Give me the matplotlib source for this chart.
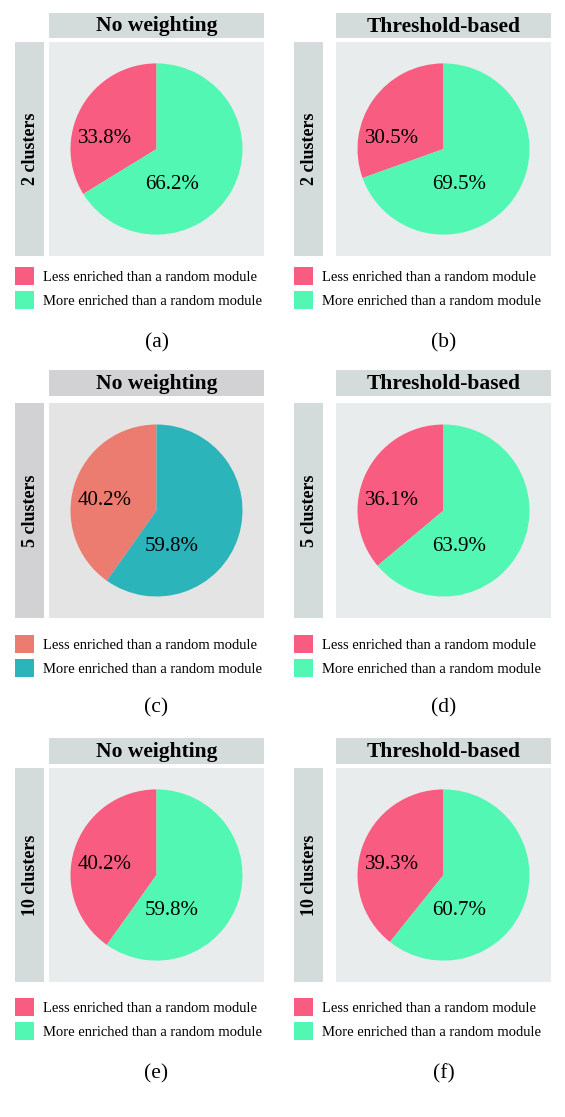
"""
Pie chart grid: share of modules more/less enriched than a random module
"""

import matplotlib.pyplot as plt
from matplotlib.patches import Rectangle

plt.rcParams['font.family'] = ['Liberation Serif', 'DejaVu Serif']

# data, row by row (a)..(f)
methods = ["No weighting", "Threshold-based"]
clusters = ["2 clusters", "5 clusters", "10 clusters"]
captions = ["(a)", "(b)", "(c)", "(d)", "(e)", "(f)"]
legend_labels = ["Less enriched than a random module", "More enriched than a random module"]
less_pct = [33.8, 30.5, 40.2, 36.1, 40.2, 39.3]
more_pct = [66.2, 69.5, 59.8, 63.9, 59.8, 60.7]

W, H = 565, 1117
fig = plt.figure(figsize=(W / 100, H / 100), dpi=100)
fig.patch.set_facecolor('white')


def fx(px):
    return px / W


def fy(py):
    return 1 - py / H


# pixel layout (top-down)
col_side = [(15, 44), (294, 323)]
col_panel = [(49, 264), (336, 551)]
row_title = [(13, 38), (370, 396), (738, 764)]
row_panel = [(42, 256), (403, 618), (768, 982)]
row_legend = [267, 635, 998]
row_caption = [343, 708, 1074]

normal = dict(pie=['#F85C80', '#53F7B4'], bg='#E8ECEC', strip='#D3DBDB')
grey = dict(pie=['#EC7B70', '#2BB4BA'], bg='#E4E4E4', strip='#D2D2D4')


def add_rect(x0, x1, y0, y1, color):
    fig.add_artist(Rectangle((fx(x0), fy(y1)), fx(x1) - fx(x0), fy(y0) - fy(y1),
                             transform=fig.transFigure, facecolor=color,
                             edgecolor='none', zorder=0))


for i in range(6):
    r, c = divmod(i, 2)
    style = grey if i == 2 else normal
    px0, px1 = col_panel[c]
    py0, py1 = row_panel[r]
    sx0, sx1 = col_side[c]
    ty0, ty1 = row_title[r]

    # title strip and side strip
    add_rect(px0, px1, ty0, ty1, style['strip'])
    fig.text(fx((px0 + px1) / 2), fy((ty0 + ty1) / 2 + 1), methods[c],
             ha='center', va='center', fontsize=15.5, fontweight='bold')
    add_rect(sx0, sx1, py0, py1, style['strip'])
    fig.text(fx((sx0 + sx1) / 2 + 1), fy((py0 + py1) / 2), clusters[r],
             ha='center', va='center', rotation=90, fontsize=13, fontweight='bold')

    ax = fig.add_axes([fx(px0), fy(py1), fx(px1) - fx(px0), fy(py0) - fy(py1)])
    wedges, texts, autotexts = ax.pie([less_pct[i], more_pct[i]], colors=style['pie'],
                                      startangle=90, counterclock=True, radius=1,
                                      autopct='%.1f%%', textprops=dict(fontsize=15))
    autotexts[0].set_position((-0.6, 0.12))
    autotexts[1].set_position((0.18, -0.42))
    ax.set_xlim(-1.25, 1.25)
    ax.set_ylim(-1.25, 1.25)
    ax.set_aspect('auto')
    ax.set_frame_on(True)
    ax.set_facecolor(style['bg'])
    ax.set_xticks([])
    ax.set_yticks([])
    for s in ax.spines.values():
        s.set_visible(False)

    ax.legend(wedges, legend_labels, loc='upper left',
              bbox_to_anchor=(fx(sx0), fy(row_legend[r])), bbox_transform=fig.transFigure,
              frameon=False, fontsize=10.5, handlelength=1.3, handleheight=1.5,
              handletextpad=0.65, labelspacing=0.45, borderpad=0, borderaxespad=0)

    fig.text(fx((px0 + px1) / 2), fy(row_caption[r]), captions[i],
             ha='center', va='center', fontsize=15.5)

fig.savefig('out.png', dpi=100)
